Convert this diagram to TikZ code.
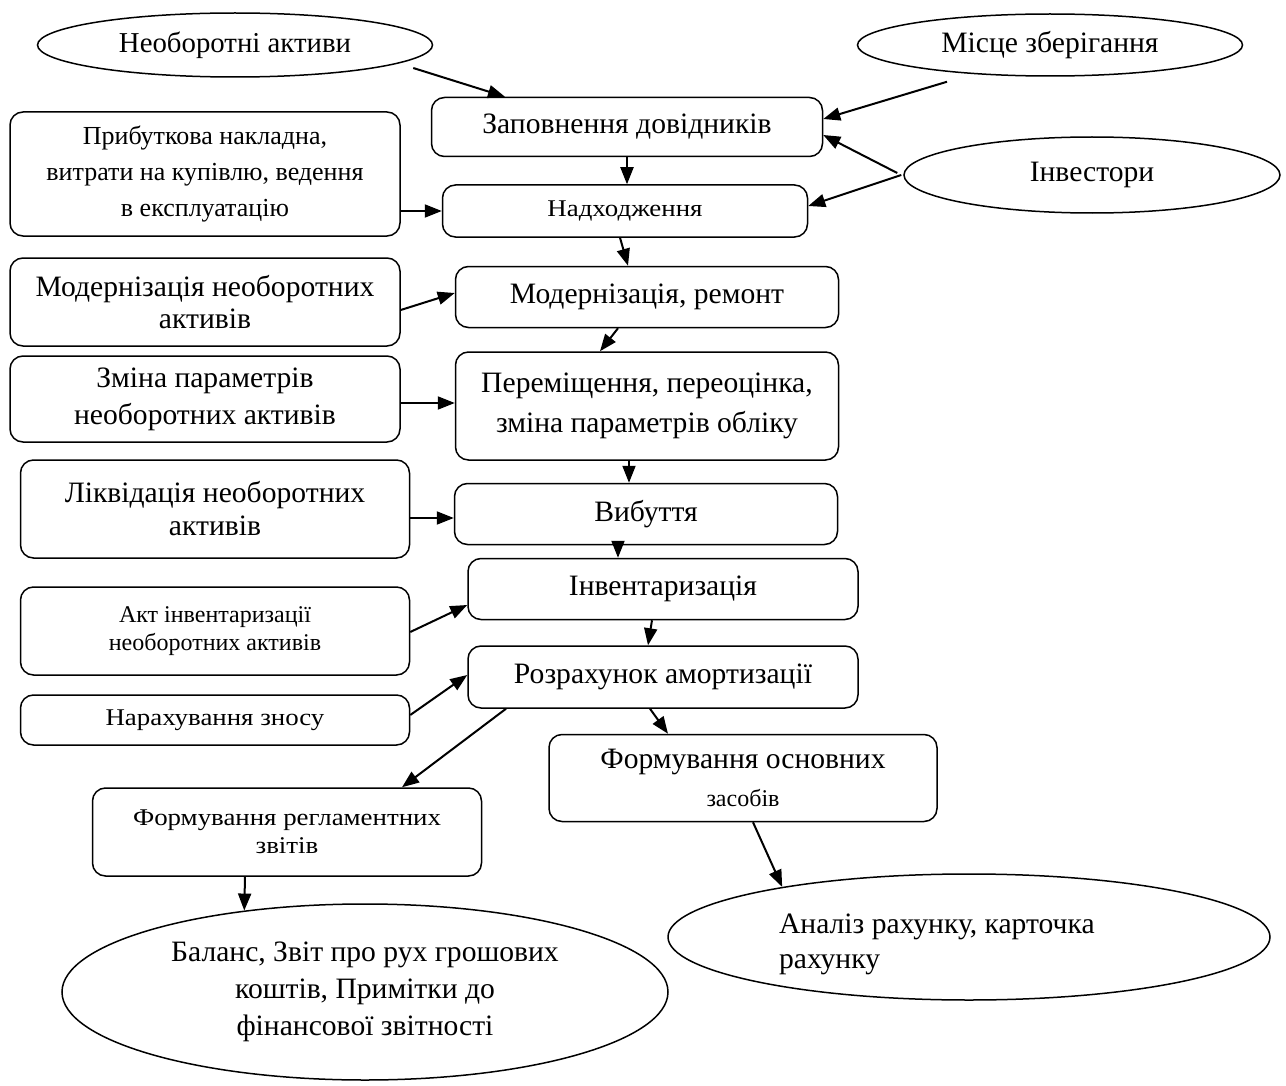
\documentclass[tikz,border=0pt]{standalone}
\usepackage{fontspec}
\setmainfont{Liberation Serif}
\newfontfamily\widefont{Liberation Serif}[FakeStretch=1.12]
\usetikzlibrary{shapes.geometric,arrows.meta}

\begin{document}
\begin{tikzpicture}[x=0.5pt, y=-0.5pt,
    box/.style={draw, rounded corners=6.5pt, line width=0.75pt, align=center, inner sep=2pt},
    ell/.style={draw, ellipse, line width=0.75pt, align=center, inner sep=0pt},
    sz/.style 2 args={minimum width=#1*0.5pt, minimum height=#2*0.5pt},
    big/.style={font=\fontsize{14.8}{18}\selectfont},
    small/.style={font=\widefont\fontsize{12}{14}\selectfont},
    arr/.style={-{Triangle[length=8.5pt,width=6.5pt]}, line width=1pt}]

    \fill[white] (0,0) rectangle (1286,1086);
    \useasboundingbox (0,0) rectangle (1286,1086);

    \node[ell, font=\fontsize{14.4}{18}\selectfont, sz={395}{64}] (NA) at (235,45) {Необоротні активи};
    \node[ell, big, sz={385}{62}] (MZ) at (1050,45) {Місце зберігання};
    \node[ell, big, sz={376}{76}] (IV) at (1092,175) {Інвестори};

    \node[box, big, sz={391}{59}] (ZD) at (627,127) {Заповнення довідників};
    \node[box, small, sz={365}{52}] (NH) at (625,211) {Надходження};
    \node[box, font=\fontsize{13}{18}\selectfont, sz={390}{124}] (PN) at (205,174)
        {Прибуткова накладна,\\витрати на купівлю, ведення\\в експлуатацію};

    \node[box, big, sz={383}{61}] (MR) at (647,297) {Модернізація, ремонт};
    \node[box, font=\fontsize{14.8}{16}\selectfont, sz={390}{88}] (MN) at (205,302)
        {Модернізація необоротних\\активів};

    \node[box, font=\fontsize{14.8}{20}\selectfont, sz={383}{108}] (PP) at (647,406)
        {Переміщення, переоцінка,\\зміна параметрів обліку};
    \node[box, font=\fontsize{14.8}{18.5}\selectfont, sz={390}{86}] (ZP) at (205,399)
        {Зміна параметрів\\необоротних активів};

    \node[box, big, sz={383}{61}] (VB) at (646,514) {Вибуття};
    \node[box, font=\fontsize{14.8}{16.5}\selectfont, sz={389}{98}] (LN) at (215,509)
        {Ліквідація необоротних\\активів};

    \node[box, big, sz={390}{61}] (IN) at (663,589) {Інвентаризація};
    \node[box, font=\fontsize{12}{14}\selectfont, sz={389}{88}] (AI) at (215,631)
        {Акт інвентаризації\\необоротних активів};

    \node[box, big, sz={390}{62}] (RA) at (663,677) {Розрахунок амортизації};
    \node[box, small, sz={389}{50}] (NZ) at (215,720) {Нарахування зносу};

    \node[box, big, sz={388}{87}] (FO) at (743,778)
        {Формування основних\\[1pt]{\fontsize{12}{14}\selectfont засобів}};
    \node[box, small, sz={389}{88}] (FR) at (287,832)
        {Формування регламентних\\звітів};

    \node[ell, font=\fontsize{14.8}{18.5}\selectfont, sz={606}{176}] (BL) at (365,992)
        {Баланс, Звіт про рух грошових\\коштів, Примітки до\\фінансової звітності};
    \node[ell, sz={602}{126}] (AR) at (969,937) {};
    \node[font=\fontsize{14.8}{17.5}\selectfont, align=left, anchor=west] (ARt) at (772,944)
        {Аналіз рахунку, карточка\\рахунку};

    \draw[arr] ([shift={(-20,23)}]NA.east) -- ([shift={(-122,0)}]ZD.north);
    \draw[arr] ([shift={(-103,5)}]MZ.south) -- ([shift={(0,-8)}]ZD.east);
    \draw[arr] ([shift={(-6,-2)}]IV.west) -- ([shift={(0,8)}]ZD.east);
    \draw[arr] ([shift={(-2,0)}]IV.west) -- ([shift={(0,-5)}]NH.east);
    \draw[arr] (ZD.south) -- (ZD.south |- NH.north);
    \draw[arr] (PN.east |- NH.west) -- (NH.west);
    \draw[arr] ([shift={(-5,0)}]NH.south) -- ([shift={(-19,0)}]MR.north);
    \draw[arr] ([shift={(0,8)}]MN.east) -- ([shift={(0,-4)}]MR.west);
    \draw[arr] ([shift={(-29,0)}]MR.south) -- ([shift={(-47,0)}]PP.north);
    \draw[arr] ([shift={(0,4)}]ZP.east) -- ([shift={(0,-3)}]PP.west);
    \draw[arr] ([shift={(-18,0)}]PP.south) -- ([shift={(-17,0)}]VB.north);
    \draw[arr] ([shift={(0,9)}]LN.east) -- ([shift={(0,4)}]VB.west);
    \draw[arr] ([shift={(-28,0)}]VB.south) -- ([shift={(-45,0)}]IN.north);
    \draw[arr] ([shift={(0,1)}]AI.east) -- ([shift={(0,16)}]IN.west);
    \draw[arr] ([shift={(-11,0)}]IN.south) -- ([shift={(-15,0)}]RA.north);
    \draw[arr] ([shift={(0,-5)}]NZ.east) -- ([shift={(0,-2)}]RA.west);
    \draw[arr] ([shift={(-157,0)}]RA.south) -- ([shift={(115,0)}]FR.north);
    \draw[arr] ([shift={(-13,0)}]RA.south) -- ([shift={(-75,0)}]FO.north);
    \draw[arr] ([shift={(10,0)}]FO.south) -- (AR.165);
    \draw[arr] ([shift={(-42,0)}]FR.south) -- (BL.146);
\end{tikzpicture}
\end{document}
